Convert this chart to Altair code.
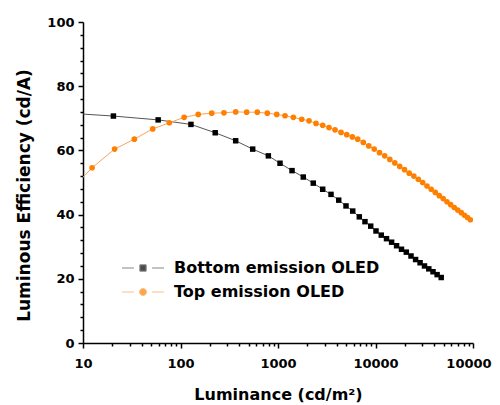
import altair as alt
import pandas as pd

series = ["Bottom emission OLED", "Top emission OLED"]

bottom_L = [9, 20.5, 59, 128, 227, 368, 550, 796, 1049, 1393,
            1817, 2300, 2873, 3497, 4195, 4983, 5840, 6823, 7800, 8930,
            10120, 11460, 12970, 14630, 16450, 18480, 20700, 23130, 25780, 28660,
            31820, 35210, 38900, 42850, 47200]
bottom_E = [71.4, 70.7, 69.5, 68.1, 65.5, 63.0, 60.4, 58.3, 56.0, 53.7,
            51.7, 49.8, 47.9, 46.3, 44.5, 42.7, 41.1, 39.3, 37.8, 36.4,
            34.9, 33.6, 32.5, 31.4, 30.3, 29.2, 28.3, 27.1, 26.0, 25.0,
            24.0, 23.1, 22.2, 21.3, 20.4]

top_L = [9, 12.4, 21.1, 33.6, 51.9, 76.8, 109, 152, 209, 279,
         368, 477, 613, 777, 970, 1180, 1436, 1751, 2080, 2454,
         2873, 3334, 3843, 4430, 5067, 5786, 6566, 7494, 8530, 9700,
         10990, 12420, 14020, 15780, 17710, 19830, 22170, 24720, 27490, 30480,
         33730, 37240, 41030, 45090, 49430, 54070, 58960, 64220, 69760, 75810,
         81880, 87850, 93930]
top_E = [50.2, 54.6, 60.4, 63.5, 66.7, 68.6, 70.3, 71.2, 71.6, 71.7,
         72.0, 71.9, 71.9, 71.6, 71.2, 70.8, 70.3, 69.7, 69.2, 68.4,
         67.8, 67.1, 66.4, 65.6, 64.9, 64.2, 63.5, 62.5, 61.4, 60.4,
         59.3, 58.3, 57.2, 56.1, 55.0, 54.0, 52.9, 52.0, 51.0, 50.0,
         48.9, 47.9, 46.9, 45.9, 45.0, 44.0, 43.1, 42.2, 41.4, 40.6,
         39.8, 39.1, 38.4]

x_ticks = [k * 10 ** d for d in range(1, 5) for k in range(1, 10)] + [100000]
y_ticks = list(range(0, 101, 4))

df = pd.concat([
    pd.DataFrame({"L": bottom_L, "E": bottom_E, "Series": series[0]}),
    pd.DataFrame({"L": top_L, "E": top_E, "Series": series[1]}),
], ignore_index=True)

FONT = "DejaVu Sans"
marker_colors = ["#000000", "#FF8000"]
line_colors = ["#555555", "#F7A45A"]
legend_paths = [
    "M-3,0H-1.3M1.3,0H3M-0.45,-0.45H0.45V0.45H-0.45Z",
    "M-3,0H-1.3M1.3,0H3M0.5,0A0.5,0.5,0,1,1,-0.5,0A0.5,0.5,0,1,1,0.5,0Z",
]

is_decade = "abs(log(datum.value)/LN10 - round(log(datum.value)/LN10)) < 0.001"

common_axis = dict(
    grid=False, domainColor="black", domainWidth=1.5, tickColor="black", tickWidth=1.5,
    labelFont=FONT, labelFontWeight="bold", labelFontSize=13, labelColor="black",
    titleFont=FONT, titleFontWeight="bold", titleColor="black",
    labelOverlap=False, labelFlush=False, format="d",
)

x_enc = alt.X("L:Q", scale=alt.Scale(type="log", domain=[10, 100000]),
              axis=alt.Axis(values=x_ticks,
                            labelExpr=f"{is_decade} ? datum.label : ''",
                            tickSize={"condition": {"test": is_decade, "value": 5}, "value": 3},
                            labelPadding=9, titlePadding=16, titleFontSize=16, **common_axis),
              title="Luminance (cd/m²)")
y_enc = alt.Y("E:Q", scale=alt.Scale(domain=[0, 100]),
              axis=alt.Axis(values=y_ticks,
                            labelExpr="datum.value % 20 === 0 ? datum.label : ''",
                            tickSize={"condition": {"test": "datum.value % 20 === 0", "value": 5}, "value": 3},
                            labelPadding=4, titlePadding=13, titleFontSize=17, titleY=173,
                            **common_axis),
              title="Luminous Efficiency (cd/A)")

fill_scale = alt.Scale(domain=series, range=marker_colors)
stroke_scale = alt.Scale(domain=series, range=line_colors)
shape_scale = alt.Scale(domain=series, range=legend_paths)

leg = alt.Legend(orient="none", legendX=52, legendY=238, title=None,
                 labelFont=FONT, labelFontSize=16, labelFontWeight="bold", labelColor="black",
                 labelLimit=0, symbolSize=196, labelOffset=23, rowPadding=8,
                 symbolFillColor="black", symbolStrokeWidth=1)

base = alt.Chart(df)

legend_layer = base.mark_point(filled=True, strokeWidth=1).encode(
    x=x_enc, y=y_enc,
    fill=alt.Fill("Series:N", scale=fill_scale, legend=leg),
    stroke=alt.Stroke("Series:N", scale=stroke_scale, legend=leg),
    shape=alt.Shape("Series:N", scale=shape_scale, legend=leg),
).transform_filter("false")

lines = base.mark_line(strokeWidth=1, clip=True).encode(
    x=x_enc, y=y_enc,
    stroke=alt.Stroke("Series:N", scale=stroke_scale, legend=None),
)

squares = base.mark_square(size=30, opacity=1, clip=True).encode(
    x=x_enc, y=y_enc,
    fill=alt.Fill("Series:N", scale=fill_scale, legend=None),
).transform_filter(alt.datum.Series == series[0])

circles = base.mark_circle(size=32, opacity=1, clip=True).encode(
    x=x_enc, y=y_enc,
    fill=alt.Fill("Series:N", scale=fill_scale, legend=None),
).transform_filter(alt.datum.Series == series[1])

chart = alt.layer(legend_layer, lines, squares, circles).properties(
    width=390, height=321,
    padding={"left": 75, "top": 14, "right": 19, "bottom": 62},
    autosize=alt.AutoSizeParams(type="none"),
).configure_view(stroke=None)

chart.save("out.html", embed_options={"renderer": "svg", "actions": False})
